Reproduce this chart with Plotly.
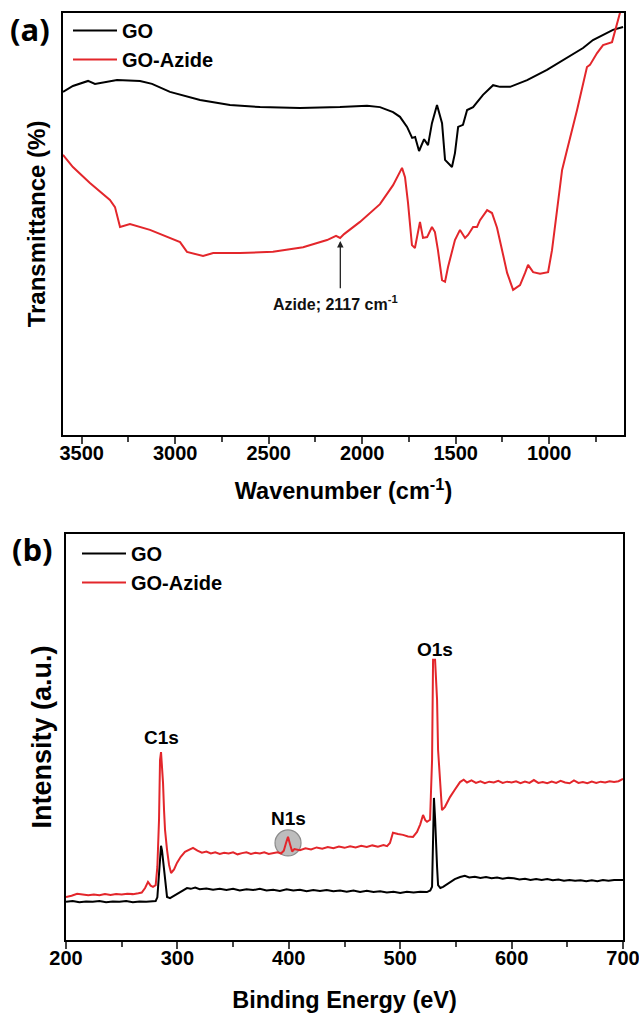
import plotly.graph_objects as go

# ---------------- Panel (a): FTIR ----------------
go_wn = [3600, 3547, 3466, 3429, 3311, 3188, 3124, 3028, 2867, 2707, 2546, 2333, 2119, 1974,
         1905, 1835, 1798, 1760, 1733, 1717, 1696, 1669, 1648, 1627, 1600, 1573, 1557, 1520,
         1504, 1487, 1461, 1439, 1407, 1354, 1300, 1263, 1209, 1118, 1012, 905, 819, 766, 659, 605]
go_t = [81.3, 82.7, 83.9, 83.2, 84.1, 83.9, 83.2, 81.3, 79.4, 78.2, 77.7, 77.5, 77.7, 78.0,
        77.7, 76.5, 75.4, 73.0, 70.4, 70.6, 67.3, 70.1, 68.7, 73.9, 78.2, 73.9, 65.2, 63.5,
        66.8, 73.0, 73.5, 77.0, 77.7, 80.6, 82.9, 82.5, 82.5, 84.1, 86.5, 89.3, 91.7, 93.6, 96.0, 96.7]

az_wn = [3600, 3547, 3456, 3349, 3322, 3295, 3242, 3135, 2974, 2937, 2851, 2797, 2653, 2477,
         2316, 2188, 2140, 2118, 2097, 2012, 1905, 1835, 1787, 1771, 1755, 1734, 1718, 1691,
         1675, 1653, 1627, 1611, 1595, 1573, 1557, 1541, 1504, 1477, 1450, 1434, 1407, 1386,
         1370, 1332, 1306, 1279, 1252, 1225, 1193, 1156, 1129, 1113, 1086, 1049, 1006, 985,
         958, 931, 905, 851, 798, 782, 744, 712, 664, 648, 621, 610]
az_t = [66.4, 63.5, 59.7, 55.7, 54.0, 49.3, 50.0, 48.6, 45.7, 43.4, 42.4, 43.1, 43.1, 43.4,
        44.5, 46.2, 47.2, 46.7, 47.6, 50.5, 54.7, 59.2, 63.3, 61.1, 55.0, 45.0, 44.3, 50.5,
        46.7, 46.9, 49.3, 48.1, 43.8, 36.7, 36.3, 39.8, 46.2, 48.6, 46.7, 47.4, 49.3, 49.3,
        50.9, 53.3, 52.6, 49.1, 43.8, 38.4, 34.4, 35.5, 38.4, 40.3, 38.6, 38.2, 38.6, 43.8,
        53.3, 62.8, 67.5, 77.0, 87.2, 87.7, 90.5, 92.4, 93.1, 95.5, 100.0, 101.9]

ftir_ticks = [3500, 3000, 2500, 2000, 1500, 1000]

# ---------------- Panel (b): XPS ----------------
xps_go_e = [200, 206, 212, 218, 224, 230, 236, 242, 248, 254, 260, 266, 272, 278, 280.5, 282,
            283.5, 284.5, 285.3, 286.2, 287.1, 288.0, 288.9, 290.7, 293.4, 297, 302, 305, 308.6,
            312, 316, 320, 326, 332, 338, 344, 350, 356, 362, 368, 374, 380, 386, 392, 398, 404,
            410, 416, 422, 428, 434, 440, 446, 452, 458, 464, 470, 476, 482, 488, 494, 500, 506,
            512, 518, 524, 527, 528.6, 529.5, 530.3, 531.3, 532.2, 533.1, 534.0, 536, 538.5, 541,
            544.8, 549, 553.8, 558, 562, 567, 572, 577, 582, 587, 592, 597, 602, 607, 612, 617,
            622, 627, 632, 637, 642, 647, 652, 657, 662, 667, 672, 677, 682, 687, 692, 697, 700]
xps_go_i = [9.4, 9.6, 9.3, 9.5, 9.4, 9.6, 9.3, 9.5, 9.4, 9.6, 9.3, 9.5, 9.4, 9.5, 9.6, 10.5,
            17.2, 21.5, 23.2, 22.0, 19.7, 16.0, 13.5, 10.6, 10.3, 10.9, 11.8, 12.3, 12.8,
            12.6, 12.9, 12.5, 12.7, 12.4, 12.6, 12.3, 12.6, 12.2, 12.5, 12.3, 12.6, 12.2, 12.4,
            12.1, 12.5, 12.2, 12.4, 12.0, 12.3, 12.1, 12.3, 12.0, 12.2, 11.9, 12.2, 11.8, 12.1,
            11.8, 12.0, 11.7, 11.9, 11.6, 11.9, 11.7, 11.9, 11.8, 12.2, 13.1, 30.0, 35.0, 30.0,
            22.0, 18.0, 13.5, 12.8, 13.1, 13.6, 14.3, 15.0, 15.5, 15.8, 15.4, 15.6, 15.3, 15.5,
            15.2, 15.4, 15.1, 15.3, 15.2, 14.9, 15.1, 14.8, 15.0, 14.8, 15.0, 14.7, 14.9, 14.6,
            14.8, 14.6, 14.7, 14.5, 14.7, 14.5, 14.8, 14.6, 14.8, 14.7, 14.8]

xps_az_e = [200, 205, 210, 215, 220, 225, 230, 235, 240, 245, 250, 255, 260, 265, 268, 271,
            273.6, 276, 278.1, 280.5, 282, 283.5, 284.4, 285.3, 286.2, 287.1, 288.0, 288.9,
            290.7, 292.5, 294.3, 297, 299.6, 303, 306.8, 310, 314, 318, 322, 326, 330, 334, 338,
            342, 346, 350, 354, 358, 362, 366, 370, 374, 378, 382, 386, 390, 393, 395.5, 397.5,
            399.3, 401.1, 403, 405, 410, 415, 420, 425, 430, 435, 440, 445, 450, 455, 460, 465,
            470, 475, 480, 485, 488.2, 490.8, 493.5, 498, 502.5, 507, 511.5, 515.1, 518, 520.5,
            522.5, 524.1, 526.8, 528.6, 529.5, 531.3, 533.1, 534.0, 535.8, 537.5, 540.2, 542.5,
            544.7, 549, 553.7, 557, 560, 564, 568, 572, 576, 580, 584, 588, 592, 596, 600, 604,
            608, 612, 616, 620, 624, 628, 632, 636, 640, 644, 648, 652, 656, 660, 664, 668, 672,
            676, 680, 684, 688, 692, 696, 700]
xps_az_i = [10.6, 10.9, 11.4, 11.2, 11.0, 11.2, 11.0, 11.3, 11.1, 11.3, 11.2, 11.4, 11.3, 11.5,
            11.7, 12.8, 14.3, 13.4, 13.1, 13.5, 18.0, 29.6, 44.3, 46.3, 43.0, 38.7, 32.0, 27.1,
            22.2, 18.5, 16.5, 17.4, 19.0, 20.5, 21.7, 22.2, 22.7, 22.0, 21.5, 21.8, 21.3, 21.6,
            21.2, 21.5, 21.3, 21.6, 21.1, 21.4, 21.6, 21.2, 21.5, 21.3, 21.6, 21.2, 21.4, 21.6,
            21.3, 22.0, 23.9, 25.4, 23.6, 21.8, 22.4, 22.1, 22.6, 22.3, 22.8, 22.5, 22.9, 22.6,
            23.0, 22.7, 23.1, 22.8, 23.2, 22.9, 23.3, 23.0, 23.4, 23.1, 23.9, 26.4, 26.1, 25.9,
            25.5, 25.4, 26.6, 28.5, 30.8, 29.5, 29.1, 29.6, 44.3, 69.0, 69.0, 59.1, 46.8, 38.0,
            32.0, 32.8, 34.0, 35.2, 37.0, 38.9, 39.5, 38.8, 39.3, 38.7, 39.1, 38.6, 39.0, 38.8,
            39.2, 38.7, 39.0, 38.8, 39.1, 38.6, 39.0, 38.7, 39.4, 38.7, 38.9, 38.6, 39.0, 38.7,
            39.2, 38.8, 38.6, 39.3, 38.7, 38.9, 38.6, 39.0, 38.7, 39.0, 38.8, 39.1, 38.9, 39.1, 39.7]

xps_ticks = [200, 300, 400, 500, 600, 700]

peak_labels = ["C1s", "N1s", "O1s"]
peak_e = [285.3, 399.3, 531.0]
peak_label_i = [49.8, 30.0, 71.6]

RED = "#E3262B"
BLACK = "#000000"
FONT = "Liberation Sans"

fig = go.Figure()

fig.add_trace(go.Scatter(x=go_wn, y=go_t, mode="lines", name="GO",
                         line=dict(color=BLACK, width=2), xaxis="x", yaxis="y",
                         legend="legend", legendgroup="a1"))
fig.add_trace(go.Scatter(x=az_wn, y=az_t, mode="lines", name="GO-Azide",
                         line=dict(color=RED, width=2), xaxis="x", yaxis="y",
                         legend="legend", legendgroup="a2"))
fig.add_trace(go.Scatter(x=xps_go_e, y=xps_go_i, mode="lines", name="GO",
                         line=dict(color=BLACK, width=2), xaxis="x2", yaxis="y2",
                         legend="legend2", legendgroup="b1"))
fig.add_trace(go.Scatter(x=xps_az_e, y=xps_az_i, mode="lines", name="GO-Azide",
                         line=dict(color=RED, width=2), xaxis="x2", yaxis="y2",
                         legend="legend2", legendgroup="b2"))

tickfont = dict(family=FONT, size=20, color="black", weight="bold")
xtitlefont = dict(family=FONT, size=23.5, color="black", weight="bold")
legfont = dict(family=FONT, size=20, color="black", weight="bold")

axis_common = dict(showgrid=False, zeroline=False, showline=True, linewidth=2,
                   linecolor="black", mirror=True, automargin=False)

fig.update_layout(
    width=639, height=1014,
    template="none",
    paper_bgcolor="white", plot_bgcolor="white",
    margin=dict(l=0, r=0, t=0, b=0),
    showlegend=True,
    xaxis=dict(domain=[63/639, 624/639], anchor="y", range=[3600, 600],
               tickvals=ftir_ticks, ticks="outside", ticklen=7, tickwidth=2,
               tickfont=tickfont, ticklabelstandoff=-8,
               minor=dict(dtick=250, tick0=0, ticks="outside", ticklen=5, tickwidth=2,
                          showgrid=False),
               title=dict(text="Wavenumber (cm<sup>-1</sup>)", font=xtitlefont, standoff=20),
               **axis_common),
    yaxis=dict(domain=[1-435/1014, 1-13/1014], anchor="x", range=[0, 100],
               showticklabels=False, ticks="",
               title=dict(text="Transmittance (%)",
                          font=dict(family=FONT, size=24, color="black", weight="bold"),
                          standoff=9),
               **axis_common),
    xaxis2=dict(domain=[66/639, 623/639], anchor="y2", range=[200, 700],
                tickvals=xps_ticks, ticks="outside", ticklen=7, tickwidth=2,
                tickfont=tickfont, ticklabelstandoff=-8, ticklabeloverflow="allow",
                minor=dict(dtick=50, tick0=0, ticks="outside", ticklen=5, tickwidth=2,
                           showgrid=False),
                title=dict(text="Binding Energy (eV)", font=xtitlefont, standoff=24),
                **axis_common),
    yaxis2=dict(domain=[1-940/1014, 1-534/1014], anchor="x2", range=[0, 100],
                showticklabels=False, ticks="",
                title=dict(text="Intensity (a.u.)",
                           font=dict(family=FONT, size=27, color="black", weight="bold"),
                           standoff=5),
                **axis_common),
    legend=dict(x=68/639, y=1-11/1014, xanchor="left", yanchor="top", font=legfont,
                bgcolor="rgba(0,0,0,0)", borderwidth=0, tracegroupgap=0, itemwidth=44),
    legend2=dict(x=77/639, y=1-534/1014, xanchor="left", yanchor="top", font=legfont,
                 bgcolor="rgba(0,0,0,0)", borderwidth=0, tracegroupgap=0, itemwidth=44),
)

# Azide arrow and label
fig.add_annotation(x=2117, y=46.0, ax=2117, ay=34.4, xref="x", yref="y", axref="x", ayref="y",
                   text="", showarrow=True, arrowhead=2, arrowsize=1, arrowwidth=1.3,
                   arrowcolor="#222222")
fig.add_annotation(x=2145, y=31.3, xref="x", yref="y", showarrow=False,
                   text="Azide; 2117 cm<sup>-1</sup>",
                   font=dict(family=FONT, size=16, color="#111111", weight="bold"))

# Peak labels
for lab, e, iy in zip(peak_labels, peak_e, peak_label_i):
    fig.add_annotation(x=e, y=iy, xref="x2", yref="y2", text=lab, showarrow=False,
                       font=dict(family=FONT, size=19, color="black", weight="bold"))

# N1s highlight circle
fig.add_shape(type="circle", xref="x2", yref="y2", xsizemode="pixel", ysizemode="pixel",
              xanchor=399.3, yanchor=23.9, x0=-13, x1=13, y0=-13, y1=13,
              fillcolor="#bdbdbd", line=dict(color="#8a8a8a", width=1.2), layer="below")

# Panel labels
fig.add_annotation(x=30/639, y=1-29/1014, xref="paper", yref="paper", text="(a)",
                   xanchor="center", yanchor="middle",
                   showarrow=False, font=dict(family="Open Sans", size=31, color="black",
                                              weight="bold"))
fig.add_annotation(x=32/639, y=1-549/1014, xref="paper", yref="paper", text="(b)",
                   xanchor="center", yanchor="middle",
                   showarrow=False, font=dict(family="Open Sans", size=31, color="black",
                                              weight="bold"))

fig.write_html("out.html")
